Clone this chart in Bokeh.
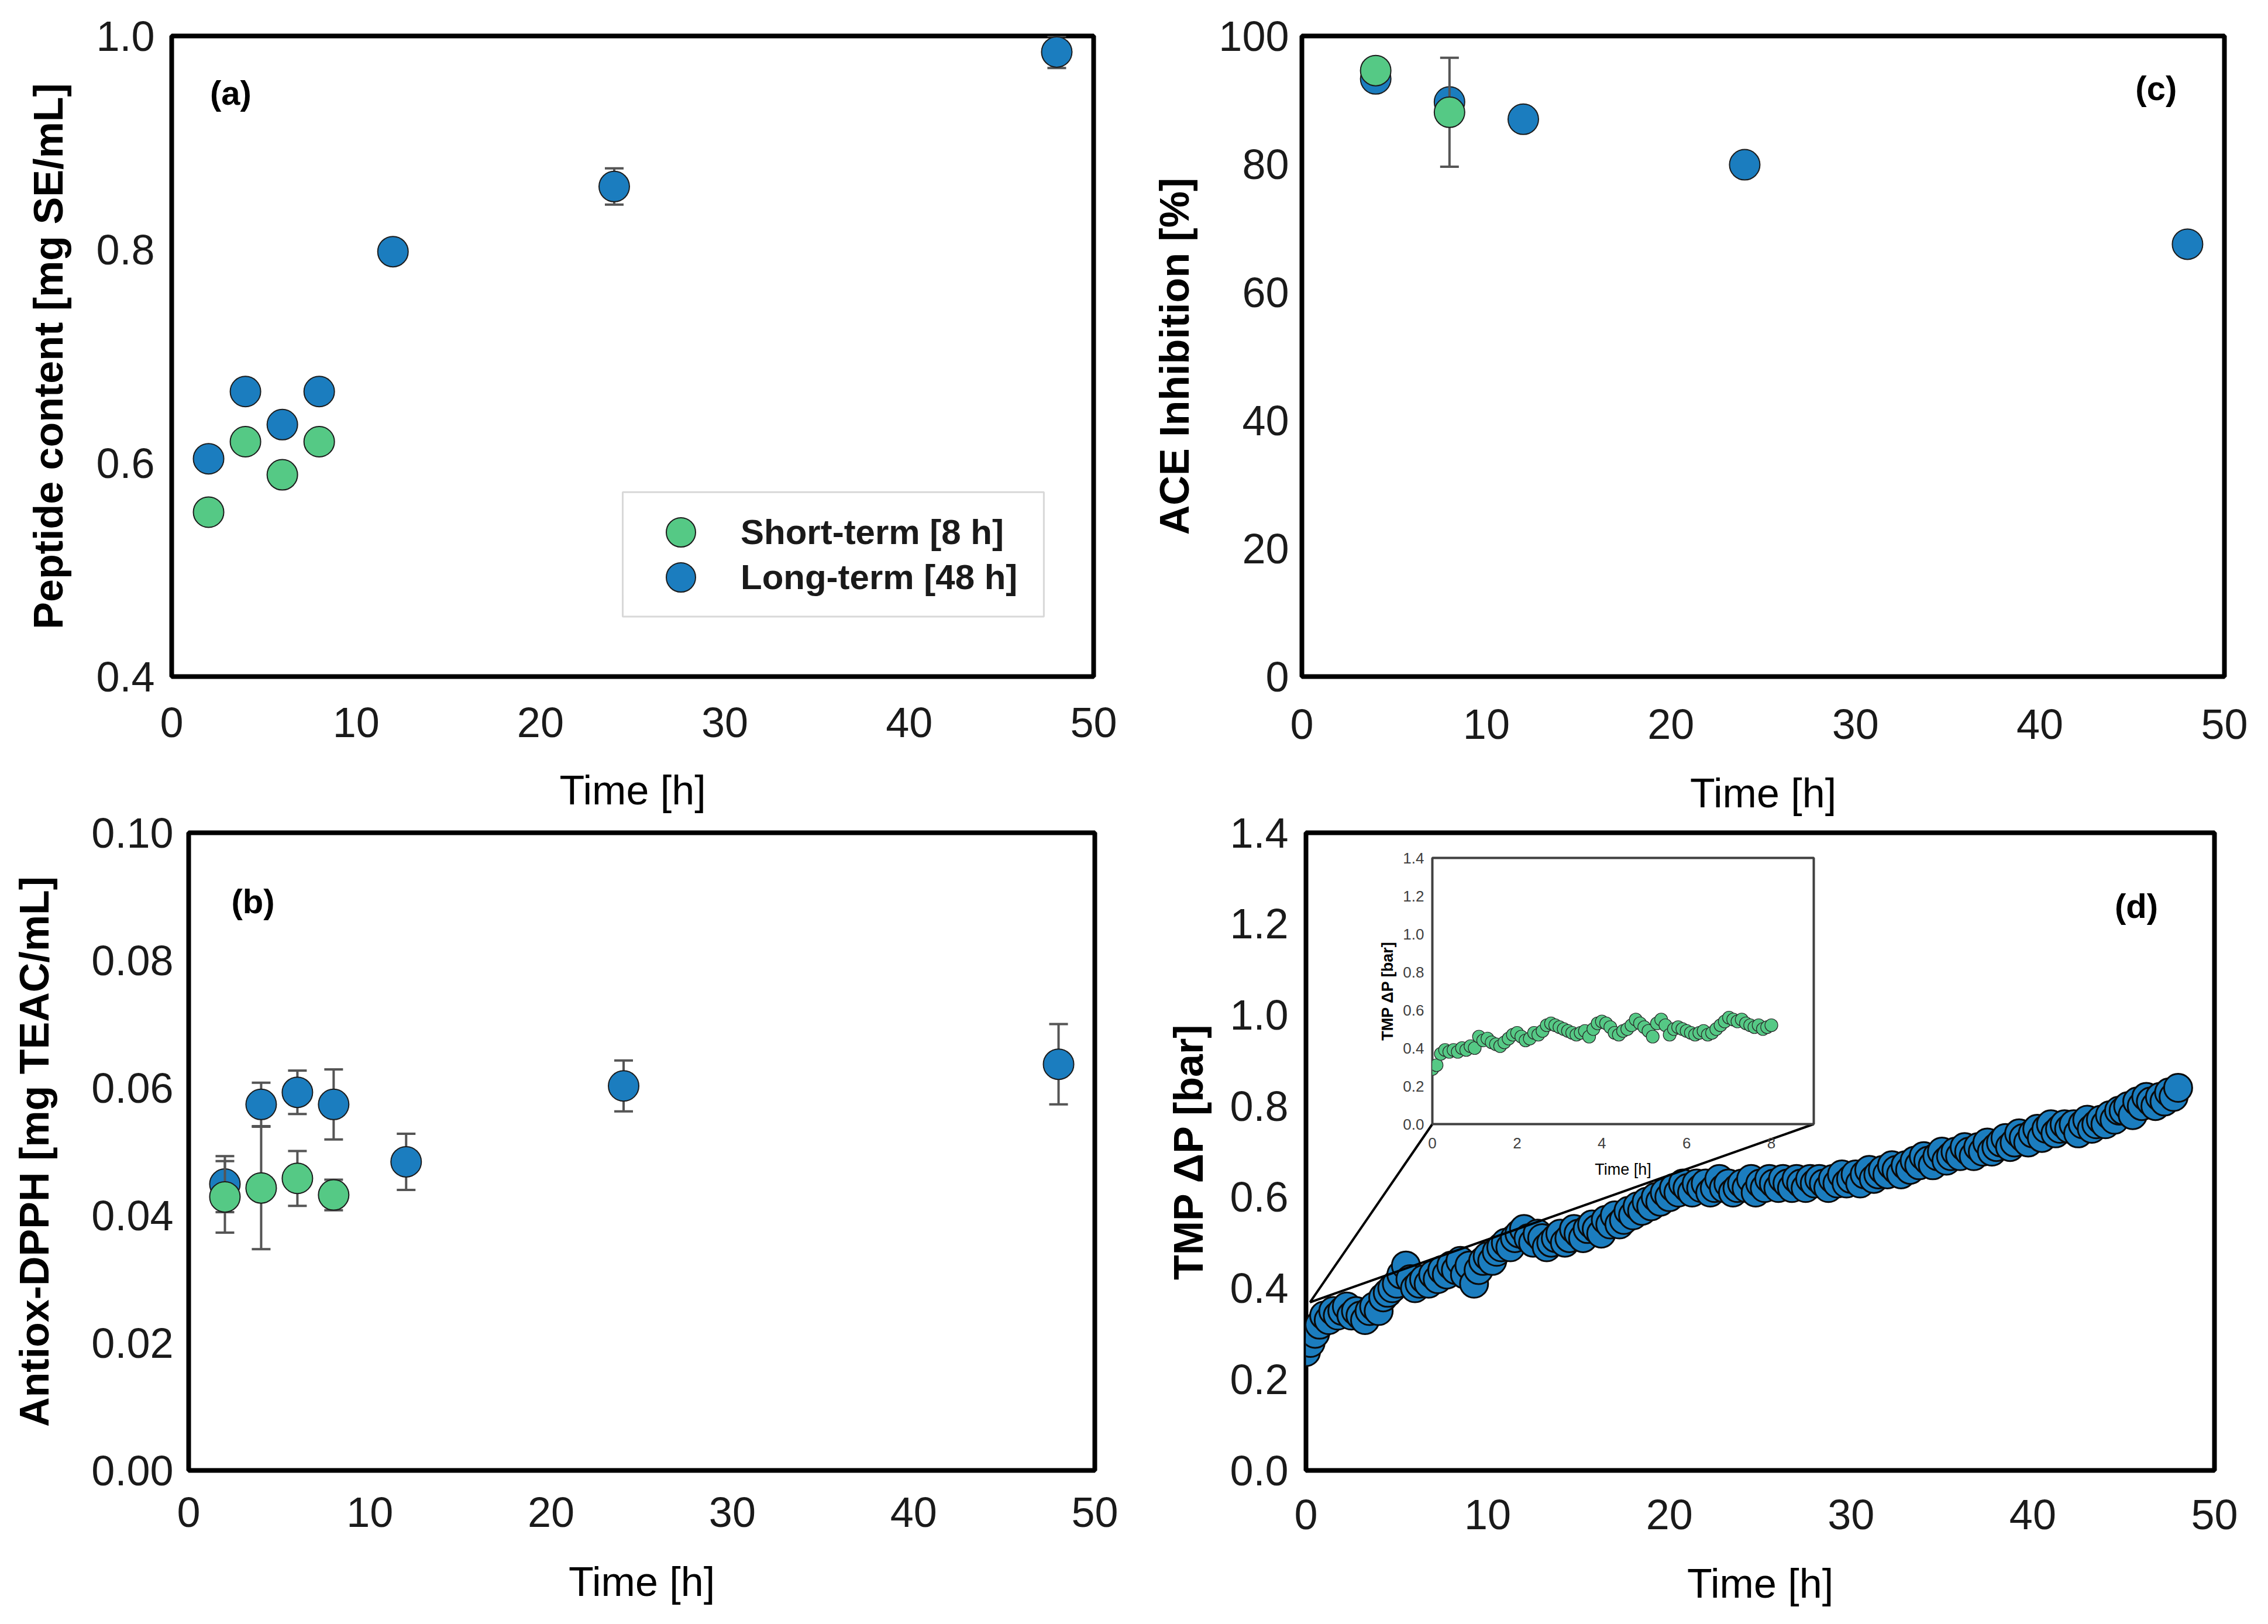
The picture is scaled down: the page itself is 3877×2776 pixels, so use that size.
from bokeh.plotting import figure
from bokeh.models import (Range1d, FixedTicker, NumeralTickFormatter, Label,
                          Legend, LegendItem, Column, Row, BoxAnnotation)
from bokeh.embed import file_html
from bokeh.resources import INLINE

FONT = "Liberation Sans"
BLUE = "#1B7DBF"
GREEN = "#55C985"
EDGE = "#1c1c1c"
BAR = "#555555"

# ---------------- data ----------------
# (a) Peptide content
pep_time_long = [2, 4, 6, 8, 12, 24, 48]
pep_long = [0.604, 0.667, 0.636, 0.667, 0.798, 0.859, 0.985]
pep_long_err = [0, 0, 0, 0, 0, 0.017, 0.015]
pep_time_short = [2, 4, 6, 8]
pep_short = [0.554, 0.620, 0.589, 0.620]
pep_short_err = [0, 0, 0, 0]

# (c) ACE inhibition
ace_time_long = [4, 8, 12, 24, 48]
ace_long = [93.3, 89.7, 87.0, 79.9, 67.5]
ace_long_err = [1.0, 1.0, 1.0, 1.0, 1.0]
ace_time_short = [4, 8]
ace_short = [94.6, 88.1]
ace_short_err = [1.0, 8.5]

# (b) Antiox-DPPH
dpph_time_long = [2, 4, 6, 8, 12, 24, 48]
dpph_long = [0.0449, 0.0574, 0.0593, 0.0574, 0.0484, 0.0603, 0.0637]
dpph_long_err = [0.0044, 0.0034, 0.0034, 0.0055, 0.0044, 0.0040, 0.0063]
dpph_time_short = [2, 4, 6, 8]
dpph_short = [0.0429, 0.0443, 0.0458, 0.0432]
dpph_short_err = [0.0056, 0.0096, 0.0043, 0.0024]

# (d) TMP, long-term run, one reading every 15 min
tmp_long_time = [i * 0.25 for i in range(193)]
tmp_long = [
    0.26, 0.28, 0.30, 0.32, 0.34, 0.33, 0.35, 0.34,
    0.35, 0.36, 0.34, 0.35, 0.34, 0.33, 0.35, 0.36,
    0.35, 0.38, 0.39, 0.40, 0.41, 0.43, 0.45, 0.42,
    0.40, 0.41, 0.42, 0.41, 0.43, 0.42, 0.44, 0.43,
    0.45, 0.44, 0.46, 0.43, 0.45, 0.41, 0.44, 0.46,
    0.47, 0.46, 0.48, 0.49, 0.50, 0.49, 0.51, 0.52,
    0.53, 0.51, 0.50, 0.52, 0.51, 0.49, 0.50, 0.51,
    0.52, 0.50, 0.51, 0.53, 0.52, 0.51, 0.53, 0.54,
    0.53, 0.52, 0.55, 0.54, 0.56, 0.54, 0.55, 0.57,
    0.56, 0.58, 0.57, 0.59, 0.58, 0.60, 0.59, 0.61,
    0.60, 0.62, 0.61, 0.63, 0.62, 0.61, 0.63, 0.62,
    0.63, 0.61, 0.62, 0.64, 0.62, 0.63, 0.61, 0.62,
    0.63, 0.62, 0.64, 0.61, 0.63, 0.62, 0.64, 0.63,
    0.62, 0.64, 0.63, 0.62, 0.64, 0.63, 0.62, 0.64,
    0.63, 0.64, 0.63, 0.62, 0.64, 0.63, 0.65, 0.63,
    0.64, 0.65, 0.63, 0.65, 0.66, 0.64, 0.65, 0.66,
    0.65, 0.67, 0.66, 0.65, 0.67, 0.66, 0.68, 0.67,
    0.69, 0.68, 0.67, 0.69, 0.70, 0.68, 0.69, 0.70,
    0.69, 0.71, 0.70, 0.69, 0.71, 0.70, 0.72, 0.70,
    0.71, 0.72, 0.73, 0.71, 0.72, 0.74, 0.73, 0.72,
    0.74, 0.75, 0.73, 0.75, 0.76, 0.74, 0.75, 0.76,
    0.75, 0.76, 0.74, 0.76, 0.77, 0.75, 0.76, 0.77,
    0.76, 0.78, 0.77, 0.79, 0.79, 0.80, 0.78, 0.81,
    0.80, 0.82, 0.81, 0.80, 0.82, 0.81, 0.83, 0.82,
    0.84,
]

# inset: short-term run, one reading every 6 min
tmp_short_time = [i * 0.1 for i in range(81)]
tmp_short = [
    0.29, 0.31, 0.37, 0.39, 0.38, 0.39, 0.38, 0.40, 0.39, 0.41, 0.40,
    0.46, 0.44, 0.45, 0.43, 0.42, 0.41, 0.43, 0.45, 0.47, 0.48,
    0.46, 0.44, 0.45, 0.48, 0.47, 0.49, 0.52, 0.53, 0.52, 0.51,
    0.50, 0.49, 0.48, 0.47, 0.48, 0.49, 0.46, 0.50, 0.53, 0.54,
    0.53, 0.51, 0.48, 0.47, 0.49, 0.50, 0.52, 0.55, 0.53, 0.51,
    0.49, 0.46, 0.53, 0.55, 0.52, 0.47, 0.50, 0.51, 0.50, 0.49,
    0.48, 0.47, 0.48, 0.49, 0.47, 0.48, 0.50, 0.52, 0.54, 0.56,
    0.55, 0.54, 0.55, 0.53, 0.52, 0.51, 0.52, 0.50, 0.51, 0.52,
]

time_ticks = [0, 10, 20, 30, 40, 50]
pep_ticks = [0.4, 0.6, 0.8, 1.0]
ace_ticks = [0, 20, 40, 60, 80, 100]
dpph_ticks = [0.00, 0.02, 0.04, 0.06, 0.08, 0.10]
tmp_ticks = [0.0, 0.2, 0.4, 0.6, 0.8, 1.0, 1.2, 1.4]
inset_time_ticks = [0, 2, 4, 6, 8]
legend_labels = ["Short-term [8 h]", "Long-term [48 h]"]


def make_fig(width, height, xr, yr, bl, br, bt, bb):
    p = figure(width=width, height=height, x_range=Range1d(*xr), y_range=Range1d(*yr),
               min_border_left=bl, min_border_right=br, min_border_top=bt,
               min_border_bottom=bb, output_backend="svg", toolbar_location=None)
    p.xgrid.visible = False
    p.ygrid.visible = False
    p.outline_line_color = "black"
    p.outline_line_width = 8
    p.background_fill_color = "white"
    p.border_fill_alpha = 0.0
    return p


def style_axes(p, xlabel, ylabel, xticks, yticks, xfmt, yfmt, font_px,
               lab_px, y_std, y_lab_std, x_std, x_lab_std, tick_color="#1a1a1a"):
    for ax in (p.xaxis[0], p.yaxis[0]):
        ax.axis_line_color = None
        ax.major_tick_line_color = None
        ax.minor_tick_line_color = None
        ax.major_tick_out = 0
        ax.major_tick_in = 0
        ax.minor_tick_out = 0
        ax.major_label_text_font = FONT
        ax.major_label_text_font_size = f"{font_px}px"
        ax.major_label_text_color = tick_color
        ax.axis_label_text_font = FONT
        ax.axis_label_text_font_size = f"{lab_px}px"
        ax.axis_label_text_color = "#000000"
    p.xaxis.ticker = FixedTicker(ticks=xticks)
    p.yaxis.ticker = FixedTicker(ticks=yticks)
    p.xaxis.formatter = NumeralTickFormatter(format=xfmt)
    p.yaxis.formatter = NumeralTickFormatter(format=yfmt)
    p.xaxis.axis_label = xlabel
    p.yaxis.axis_label = ylabel
    p.xaxis.axis_label_text_font_style = "normal"
    p.yaxis.axis_label_text_font_style = "bold"
    p.yaxis.major_label_standoff = y_std
    p.yaxis.axis_label_standoff = y_lab_std
    p.xaxis.major_label_standoff = x_std
    p.xaxis.axis_label_standoff = x_lab_std


def add_series(p, t, v, err, color, size=52):
    lo = [a - e for a, e in zip(v, err)]
    hi = [a + e for a, e in zip(v, err)]
    p.segment(x0=t, y0=lo, x1=t, y1=hi, line_color=BAR, line_width=4)
    p.scatter(x=t, y=lo, marker="dash", size=32, line_color=BAR, line_width=4)
    p.scatter(x=t, y=hi, marker="dash", size=32, line_color=BAR, line_width=4)
    return p.scatter(x=t, y=v, size=size, fill_color=color, line_color=EDGE, line_width=2)


def panel_label(p, text, x, y):
    p.add_layout(Label(x=x, y=y, text=text, text_font=FONT, text_font_size="58px",
                       text_font_style="bold", text_align="center",
                       text_baseline="middle", text_color="#000000"))


TICK_PX = 72
LAB_PX = 70

# ---------------- page geometry (px) ----------------
ROW1_BB = 300
ROW1_H = 56 + 1100 + ROW1_BB
ROW2_TOP = 1383          # page-image y where the second row starts
ROW2_BT, ROW2_BB = 48, 300
ROW2_FH = 1090
LEFT_W = 1952            # width of the left column figures

# ---------------- (a) ----------------
pa = make_fig(LEFT_W, ROW1_H, (0, 50), (0.4, 1.0), 293, 83, 56, ROW1_BB)
style_axes(pa, "Time [h]", "Peptide content [mg SE/mL]", time_ticks, pep_ticks,
           "0", "0.0", TICK_PX, LAB_PX, 29, 39, 53, 49)
r_long = add_series(pa, pep_time_long, pep_long, pep_long_err, BLUE)
r_short = add_series(pa, pep_time_short, pep_short, pep_short_err, GREEN)
panel_label(pa, "(a)", 3.2, 0.947)

# legend frame + two single-row legends (rows closer than the marker box)
pa.add_layout(BoxAnnotation(left=24.46, right=47.30, bottom=0.4561, top=0.5728,
                            fill_color="white", fill_alpha=1.0,
                            line_color="#7f7f7f", line_width=3))
for lab, rend, ypos in ((legend_labels[0], r_short, 184), (legend_labels[1], r_long, 107)):
    lg = Legend(items=[LegendItem(label=lab, renderers=[rend])],
                location=(808, ypos), glyph_width=125, glyph_height=125,
                label_standoff=40, label_height=125, padding=0, spacing=0, margin=0,
                border_line_color=None, background_fill_alpha=0.0,
                label_text_font=FONT, label_text_font_size="60px",
                label_text_font_style="bold", label_text_color="#1a1a1a")
    pa.add_layout(lg)

# ---------------- (c) ----------------
pc = make_fig(1909, ROW1_H, (0, 50), (0, 100), 273, 59, 61, ROW1_BB - 5)
style_axes(pc, "Time [h]", "ACE Inhibition [%]", time_ticks, ace_ticks,
           "0", "0", TICK_PX, LAB_PX, 22, 33, 56, 51)
add_series(pc, ace_time_long, ace_long, ace_long_err, BLUE)
add_series(pc, ace_time_short, ace_short, ace_short_err, GREEN)
panel_label(pc, "(c)", 46.3, 91.9)

# ---------------- (b) ----------------
pb = make_fig(LEFT_W, ROW2_BT + ROW2_FH + ROW2_BB, (0, 50), (0, 0.10), 322, 81,
              ROW2_BT, ROW2_BB)
style_axes(pb, "Time [h]", "Antiox-DPPH [mg TEAC/mL]", time_ticks, dpph_ticks,
           "0", "0.00", TICK_PX, LAB_PX, 26, 55, 46, 52)
add_series(pb, dpph_time_long, dpph_long, dpph_long_err, BLUE)
add_series(pb, dpph_time_short, dpph_short, dpph_short_err, GREEN)
panel_label(pb, "(b)", 3.55, 0.0893)

# ---------------- (d) ----------------
D_W, D_L, D_R = 1909, 280, 76
pd = make_fig(D_W, ROW2_BT + ROW2_FH + ROW2_BB, (0, 50), (0, 1.4), D_L, D_R,
              ROW2_BT, ROW2_BB)
style_axes(pd, "Time [h]", "TMP ΔP [bar]", time_ticks, tmp_ticks,
           "0", "0.0", TICK_PX, LAB_PX, 30, 28, 50, 51)
pd.scatter(x=tmp_long_time, y=tmp_long, size=48, fill_color=BLUE,
           line_color="#0a0a0a", line_width=3)
panel_label(pd, "(d)", 45.7, 1.239)

# ---------------- inset ----------------
IN_X, IN_Y = 2340, 1448      # page-image position of the inset canvas
IN_BL, IN_BR, IN_BT, IN_BB = 116, 12, 26, 110
IN_FW, IN_FH = 652, 455
inset = figure(frame_width=IN_FW, frame_height=IN_FH,
               x_range=Range1d(0, 9), y_range=Range1d(0, 1.4),
               min_border_left=IN_BL, min_border_right=IN_BR,
               min_border_top=IN_BT, min_border_bottom=IN_BB,
               output_backend="svg", toolbar_location=None)
inset.xgrid.visible = False
inset.ygrid.visible = False
inset.outline_line_color = "#404040"
inset.outline_line_width = 4
inset.background_fill_color = "white"
inset.border_fill_alpha = 0.0
style_axes(inset, "Time [h]", "TMP ΔP [bar]", inset_time_ticks, tmp_ticks,
           "0", "0.0", 26, 27, 14, 8, 23, 18, tick_color="#404040")
inset.scatter(x=tmp_short_time, y=tmp_short, size=22, fill_color=GREEN,
              line_color="#2a2a2a", line_width=1.2)

# zoom lines from the start of the run to the inset's lower corners
d_frame_left = 8 + LEFT_W + D_L
d_frame_top = ROW2_TOP + ROW2_BT
d_fw = D_W - D_L - D_R
in_frame_left = IN_X + IN_BL
in_frame_bottom = IN_Y + IN_BT + IN_FH
corner_y = 1.4 - (in_frame_bottom - d_frame_top) * 1.4 / ROW2_FH
corner_x0 = (in_frame_left - d_frame_left) * 50.0 / d_fw
corner_x1 = (in_frame_left + IN_FW - d_frame_left) * 50.0 / d_fw
pd.segment(x0=[0.22, 0.22], y0=[0.369, 0.369], x1=[corner_x0, corner_x1],
           y1=[corner_y, corner_y], line_color="black", line_width=4)

# ---------------- layout ----------------
row1 = Row(children=[pa, pc])
overlap = 8 + ROW1_H - ROW2_TOP
row2 = Row(children=[pb, pd], styles={"margin-top": f"-{overlap}px"})
row2_bottom = ROW2_TOP + ROW2_BT + ROW2_FH + ROW2_BB
inset_box = Column(children=[inset],
                   styles={"margin-top": f"-{row2_bottom - IN_Y}px",
                           "margin-left": f"{IN_X - 8}px", "z-index": "5"})
layout = Column(children=[row1, row2, inset_box],
                styles={"height": "2760px", "overflow": "hidden"})

open("out.html", "w").write(file_html(layout, INLINE))
